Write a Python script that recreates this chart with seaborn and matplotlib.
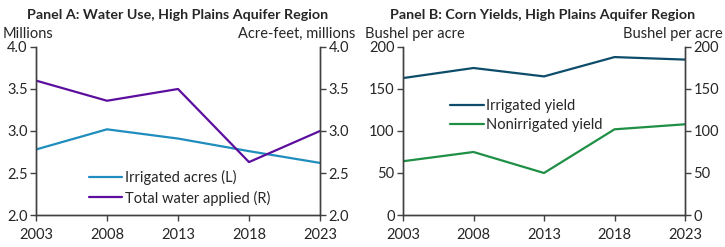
import numpy as np
import pandas as pd
import seaborn as sns
from matplotlib import pyplot as plt

sns.set_style("white")
plt.rcParams['font.family'] = ['Lato', 'DejaVu Sans']
plt.rcParams['font.size'] = 10.5

years = [2003, 2008, 2013, 2018, 2023]
irrigated_acres = [2.78, 3.02, 2.91, 2.76, 2.62]
total_water = [3.60, 3.36, 3.50, 2.63, 3.00]
irrigated_yield = [163, 175, 165, 188, 185]
nonirrigated_yield = [64, 75, 50, 102, 108]

c_acres = "#1f8dbd"
c_water = "#5c0f9e"
c_irr = "#0d4d6b"
c_non = "#1f8f45"

dfa = pd.DataFrame({"year": years, "acres": irrigated_acres, "water": total_water})
dfb = pd.DataFrame({"year": years, "irr": irrigated_yield, "non": nonirrigated_yield})

fig = plt.figure(figsize=(7.25, 2.47), dpi=100)
axA = fig.add_axes([36/725, 32/247, 284/725, 168/247])
axB = fig.add_axes([403/725, 32/247, 282/725, 168/247])


def style_axes(ax, ax2, ylim, yticks, fmt):
    ax.set_xlim(2003, 2023)
    ax.set_xticks(years)
    ax.set_xticklabels([str(y) for y in years])
    for a in (ax, ax2):
        a.set_ylim(*ylim)
        a.set_yticks(yticks)
        a.set_yticklabels([fmt.format(v) for v in yticks])
        a.spines["top"].set_visible(False)
        for s in ("left", "right", "bottom"):
            a.spines[s].set_color("#404040")
            a.spines[s].set_linewidth(1.0)
        a.set_xlabel("")
        a.set_ylabel("")
    ax.tick_params(axis="y", left=True, length=4, width=1, color="#404040", pad=2, labelsize=10.5)
    ax.tick_params(axis="x", bottom=True, length=4, width=1, color="#404040", pad=5, labelsize=10.5)
    ax2.tick_params(axis="y", right=True, length=4, width=1, color="#404040", pad=2, labelsize=10.5)


# Panel A
axA2 = axA.twinx()
sns.lineplot(data=dfa, x="year", y="acres", ax=axA, color=c_acres, linewidth=1.6, label="Irrigated acres (L)", legend=False)
sns.lineplot(data=dfa, x="year", y="water", ax=axA2, color=c_water, linewidth=1.6, label="Total water applied (R)", legend=False)
style_axes(axA, axA2, (2.0, 4.0), [2.0, 2.5, 3.0, 3.5, 4.0], "{:.1f}")
hA = axA.get_lines() + axA2.get_lines()
axA.legend(hA, [l.get_label() for l in hA], loc="lower left", bbox_to_anchor=(0.14, -0.022),
           frameon=False, handlelength=2.3, handletextpad=0.15, labelspacing=0.35, fontsize=10.5)

# Panel B
axB2 = axB.twinx()
sns.lineplot(data=dfb, x="year", y="irr", ax=axB, color=c_irr, linewidth=1.6, label="Irrigated yield", legend=False)
sns.lineplot(data=dfb, x="year", y="non", ax=axB, color=c_non, linewidth=1.6, label="Nonirrigated yield", legend=False)
style_axes(axB, axB2, (0, 200), [0, 50, 100, 150, 200], "{:d}")
axB.legend(loc="upper left", bbox_to_anchor=(0.12, 0.768), frameon=False,
           handlelength=2.3, handletextpad=0.15, labelspacing=0.35, fontsize=10.5)

# titles and unit labels
fig.text(178/725, 1 - 15/247, "Panel A: Water Use, High Plains Aquifer Region", ha="center", va="center",
         fontsize=10.3, fontweight="bold")
fig.text(543/725, 1 - 15/247, "Panel B: Corn Yields, High Plains Aquifer Region", ha="center", va="center",
         fontsize=10.3, fontweight="bold")
fig.text(3/725, 1 - 34/247, "Millions", ha="left", va="center", fontsize=10.5)
fig.text(355/725, 1 - 34/247, "Acre-feet, millions", ha="right", va="center", fontsize=10.5)
fig.text(365/725, 1 - 34/247, "Bushel per acre", ha="left", va="center", fontsize=10.5)
fig.text(723/725, 1 - 34/247, "Bushel per acre", ha="right", va="center", fontsize=10.5)

fig.savefig("out.png", dpi=100)
